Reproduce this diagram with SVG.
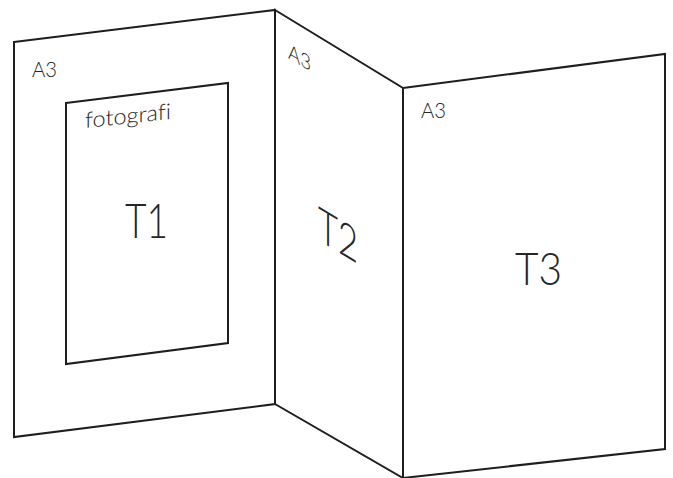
<svg xmlns="http://www.w3.org/2000/svg" width="673" height="478" viewBox="0 0 673 478">
<style>
.p{fill:#fff;stroke:#1e1e1e;stroke-width:2;stroke-linejoin:miter}
.t{font-family:Lato,"Liberation Sans",sans-serif;font-weight:300;fill:#262626;font-variant-ligatures:none}
</style>
<rect width="673" height="478" fill="#fff"/>
<g id="panel1">
<polygon class="p" points="14,42 275,10 275,404 14,437"/>
<text class="t" x="32" y="77" font-size="22" textLength="25" lengthAdjust="spacingAndGlyphs">A3</text>
<polygon class="p" points="66,103 228,83 228,343 66,364"/>
<text class="t" font-size="22" transform="translate(85,128) skewY(-6)" textLength="86" lengthAdjust="spacingAndGlyphs">fotografi</text>
<text class="t" x="125" y="238" font-size="48" textLength="43" lengthAdjust="spacingAndGlyphs">T1</text>
</g>
<g id="panel2">
<polygon class="p" points="275,10 403,88 403,478 275,404"/>
<text class="t" font-size="21" transform="translate(288,58) skewY(31)" textLength="23" lengthAdjust="spacingAndGlyphs">A3</text>
<text class="t" font-size="48" transform="translate(318,240) skewY(31)" textLength="40" lengthAdjust="spacingAndGlyphs">T2</text>
</g>
<g id="panel3">
<polygon class="p" points="403,88 665,54 665,449 403,478"/>
<text class="t" x="421" y="118" font-size="22" textLength="25" lengthAdjust="spacingAndGlyphs">A3</text>
<text class="t" x="515" y="285" font-size="45" textLength="47" lengthAdjust="spacingAndGlyphs">T3</text>
</g>
</svg>
